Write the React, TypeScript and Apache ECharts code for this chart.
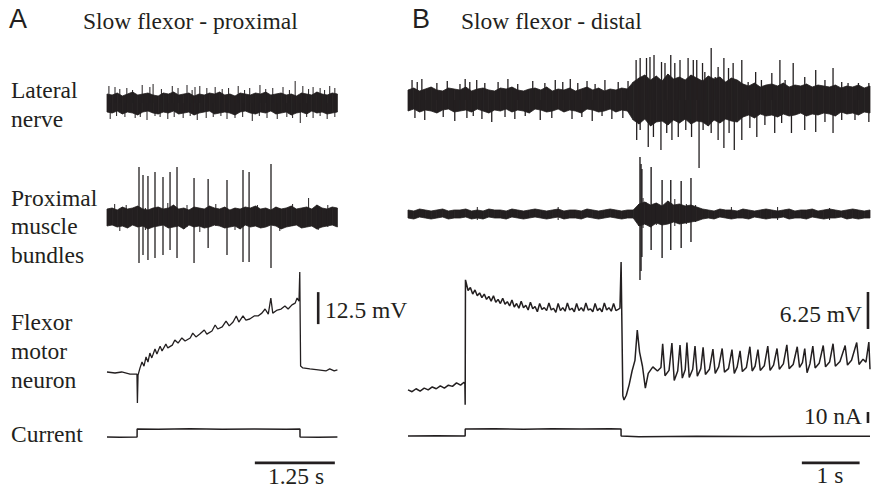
import React, { useEffect, useRef } from "react";
import * as echarts from "echarts";

const INK = "#231f20";
const SERIF = '"Liberation Serif", "Times New Roman", serif';
const SANS = '"Liberation Sans", Arial, sans-serif';

// ---------------- Panel A : Slow flexor - proximal (0 - 3.6 s) ----------------
const A_DURATION = 3.6;

// Lateral nerve (arbitrary units), envelope of the noise band
const latAUpper = [9, 8, 10, 7, 9, 11, 8, 9, 10, 8, 7, 10, 9, 11, 8, 9, 10, 7, 9, 8, 10, 9, 11, 8, 9, 7, 10, 9, 8, 10, 9, 11, 8, 9, 10, 8, 9, 7, 10, 9, 8, 11, 9, 8, 10, 9];
const latALower = [-9, -10, -8, -11, -9, -10, -12, -9, -8, -10, -11, -9, -10, -8, -11, -10, -9, -12, -10, -9, -8, -11, -10, -9, -10, -12, -9, -8, -10, -11, -9, -10, -8, -11, -10, -9, -12, -10, -9, -11, -8, -10, -9, -11, -10, -9];
const latATops: [number, number][] = [[0.03, 17], [0.125, 16], [0.2, 14], [0.31, 15], [0.4, 13], [0.55, 18], [0.67, 16], [0.72, 19], [0.85, 14], [1.02, 17], [1.11, 15], [1.25, 18], [1.33, 13], [1.375, 16], [1.45, 17], [1.56, 15], [1.69, 16], [1.8, 14], [1.9, 15], [2.05, 17], [2.15, 13], [2.23, 15], [2.39, 18], [2.48, 14], [2.59, 15], [2.75, 16], [2.85, 13], [2.94, 22], [3.06, 17], [3.15, 14], [3.22, 16], [3.33, 15], [3.4, 13], [3.48, 17], [3.56, 15]];
const latABottoms: [number, number][] = [[0.05, -16], [0.15, -13], [0.28, -14], [0.44, -15], [0.52, -14], [0.625, -17], [0.75, -13], [0.83, -14], [0.95, -16], [1.05, -14], [1.19, -15], [1.3, -13], [1.41, -17], [1.55, -15], [1.66, -14], [1.78, -13], [1.875, -16], [2.0, -15], [2.12, -14], [2.27, -18], [2.38, -13], [2.5, -15], [2.66, -16], [2.81, -14], [2.9, -15], [3.02, -20], [3.12, -14], [3.22, -15], [3.33, -13], [3.44, -16], [3.56, -14]];

// Proximal muscle bundles
const proxAUpper = [8, 9, 7, 10, 8, 9, 11, 8, 7, 9, 10, 8, 9, 12, 8, 9, 7, 10, 9, 8, 11, 9, 8, 10, 7, 9, 8, 10, 9, 11, 8, 9, 7, 10, 8, 9, 11, 8, 9, 10, 8, 12, 9, 8, 10, 9];
const proxALower = [-9, -8, -10, -9, -11, -8, -10, -9, -12, -10, -9, -8, -11, -10, -9, -12, -8, -10, -9, -11, -10, -8, -9, -11, -10, -9, -12, -8, -10, -9, -11, -10, -8, -9, -12, -10, -9, -8, -11, -10, -9, -12, -10, -9, -8, -10];
// [time, top, bottom]
const proxASpikes: [number, number, number][] = [[0.5, 50, -46], [0.5625, 42, -38], [0.64, 41, -43], [0.75, 45, -41], [0.875, 40, -38], [0.985, 45, -33], [1.094, 50, -41], [1.36, 39, -46], [1.58, 38, -31], [1.875, 37, -38], [2.125, 47, -45], [2.22, 45, -45], [2.5625, 53, -51]];
const proxANoise: [number, number, number][] = [[0.12, 13, -9], [0.2, 8, -14], [0.3, 12, -8], [0.6, 9, -13], [0.95, 14, -9], [1.25, 12, -10], [1.45, 9, -15], [1.7, 13, -9], [2.0, 8, -13], [2.35, 12, -10], [2.7, 9, -14], [2.9, 13, -9], [3.15, 19, -8], [3.3, 9, -13], [3.45, 12, -10]];

// Flexor motor neuron (mV, relative to rest)
const neuronA: [number, number][] = [[0, 0.4], [0.125, 0], [0.23, 0.4], [0.36, -0.4], [0.44, -0.4], [0.468, -0.4], [0.475, -11.7], [0.485, -0.8], [0.516, 2.0], [0.547, 4.3], [0.578, 2.7], [0.61, 6.3], [0.64, 4.3], [0.67, 7.8], [0.7, 5.9], [0.75, 9.4], [0.78, 7.4], [0.83, 10.5], [0.86, 8.6], [0.92, 11.3], [0.95, 9.8], [1.02, 10.9], [1.06, 12.9], [1.11, 11.7], [1.17, 13.7], [1.22, 12.5], [1.3, 13.7], [1.34, 15.6], [1.39, 14.1], [1.45, 15.2], [1.52, 16.8], [1.56, 15.2], [1.64, 16.4], [1.69, 18.75], [1.73, 17.2], [1.8, 18.0], [1.86, 20.3], [1.91, 18.4], [1.97, 19.9], [2.02, 22.3], [2.06, 19.9], [2.125, 22.3], [2.17, 20.7], [2.23, 21.1], [2.3, 22.3], [2.36, 22.3], [2.42, 23.4], [2.47, 25.0], [2.52, 23.0], [2.56, 29.3], [2.59, 23.4], [2.66, 24.6], [2.72, 25.0], [2.78, 26.2], [2.83, 25.0], [2.89, 26.6], [2.94, 27.3], [2.97, 29.3], [3.0, 28.1], [3.012, 39.5], [3.025, 2.7], [3.06, 2.0], [3.17, 1.6], [3.3, 1.2], [3.42, 0.8], [3.48, 1.6], [3.55, 0.8], [3.6, 1.2]];

// Current (nA)
const currentA: [number, number][] = [[0, 0], [0.2, -0.3], [0.47, 0], [0.471, 7.3], [0.8, 7.0], [1.3, 7.4], [1.8, 7.1], [2.3, 7.3], [2.8, 7.0], [3.015, 7.2], [3.016, 0], [3.3, -0.2], [3.6, 0]];

// ---------------- Panel B : Slow flexor - distal (0 - 8 s) ----------------
const B_DURATION = 8.0;

const latBUpper = [10, 12, 9, 11, 13, 10, 9, 12, 11, 10, 13, 9, 11, 12, 10, 9, 12, 11, 13, 10, 9, 11, 12, 10, 13, 9, 11, 10, 12, 9, 11, 13, 10, 12, 9, 11, 10, 12, 11,
  18, 22, 25, 20, 24, 19, 26, 21, 23, 20, 25, 22, 19, 24, 21, 23, 18, 22, 20,
  16, 14, 17, 13, 15, 16, 14, 17, 13, 15, 14, 16, 13, 15, 14, 13, 15, 12, 14, 13, 15, 12, 14];
const latBLower = [-11, -9, -12, -10, -11, -13, -10, -9, -12, -11, -10, -12, -9, -11, -13, -10, -11, -9, -12, -10, -11, -13, -9, -10, -12, -11, -9, -12, -10, -11, -13, -9, -10, -12, -11, -9, -12, -10, -11,
  -20, -24, -19, -26, -22, -21, -25, -20, -23, -19, -24, -21, -22, -26, -20, -23, -19, -21, -22,
  -17, -15, -18, -14, -16, -15, -17, -14, -16, -15, -13, -16, -14, -15, -13, -14, -16, -12, -14, -13, -15, -12, -13];
const latBTops: [number, number][] = [[0.07, 20], [0.16, 18], [0.24, 21], [0.5, 17], [0.68, 19], [0.9, 16], [0.99, 21], [1.07, 18], [1.19, 20], [1.33, 17], [1.56, 18], [1.73, 21], [1.9, 16], [2.16, 19], [2.37, 17], [2.55, 20], [2.68, 18], [2.81, 21], [2.94, 17], [3.1, 19], [3.24, 16], [3.41, 20], [3.64, 18], [3.81, 19],
  [3.95, 40], [4.02, 42], [4.13, 42], [4.19, 43], [4.26, 45], [4.39, 38], [4.45, 37], [4.55, 45], [4.62, 37], [4.71, 40], [4.85, 42], [4.94, 40], [5.0, 40], [5.1, 37], [5.14, 28], [5.25, 52], [5.32, 23], [5.37, 33], [5.47, 42], [5.55, 32], [5.63, 37], [5.78, 40], [5.89, 18], [6.02, 28], [6.12, 20], [6.3, 27], [6.44, 40], [6.53, 20], [6.67, 37], [6.87, 23], [7.06, 30], [7.22, 20], [7.36, 32], [7.51, 18], [7.62, 17], [7.8, 17], [7.98, 17]];
const latBBottoms: [number, number][] = [[0.12, -18], [0.29, -20], [0.61, -17], [0.81, -21], [1.02, -18], [1.13, -16], [1.28, -19], [1.45, -22], [1.68, -17], [1.85, -19], [2.03, -16], [2.29, -20], [2.49, -18], [2.84, -19], [3.01, -17], [3.19, -21], [3.36, -16], [3.53, -19], [3.72, -18],
  [3.96, -40], [4.02, -30], [4.16, -47], [4.25, -37], [4.38, -50], [4.48, -33], [4.57, -40], [4.68, -37], [4.81, -30], [4.91, -37], [5.04, -68], [5.11, -30], [5.25, -33], [5.37, -40], [5.47, -48], [5.56, -33], [5.65, -50], [5.78, -40], [5.92, -28], [6.04, -37], [6.18, -25], [6.35, -33], [6.47, -23], [6.64, -33], [6.87, -30], [7.06, -32], [7.22, -22], [7.36, -33], [7.51, -20], [7.74, -20], [7.98, -22]];

const proxBUpper = [4, 3, 5, 4, 3, 4, 5, 3, 4, 4, 5, 3, 4, 3, 5, 4, 4, 3, 5, 4, 3, 4, 5, 4, 3, 4, 5, 3, 4, 4, 3, 5, 4, 3, 4, 5, 4, 3, 4, 4,
  10, 12, 9, 11, 8, 13, 9, 10, 8, 9, 7,
  5, 4, 3, 5, 4, 4, 3, 5, 4, 3, 4, 5, 4, 3, 4, 5, 3, 4, 4, 5, 3, 4, 5, 4, 3, 4, 5, 4, 3, 4];
const proxBLower = [-4, -5, -3, -4, -5, -4, -3, -5, -4, -4, -3, -5, -4, -5, -3, -4, -4, -5, -3, -4, -5, -4, -3, -4, -5, -4, -3, -5, -4, -4, -5, -3, -4, -5, -4, -3, -4, -5, -4, -4,
  -12, -10, -13, -9, -11, -10, -8, -10, -9, -8, -7,
  -5, -4, -5, -3, -4, -5, -4, -4, -5, -3, -4, -5, -4, -4, -3, -5, -4, -4, -5, -3, -4, -5, -4, -4, -3, -5, -4, -5, -4, -4];
const proxBSpikes: [number, number, number][] = [[4.017, 57, -66], [4.035, 50, -57], [4.05, 45, -43], [4.21, 47, -36], [4.4, 34, -44], [4.55, 34, -36], [4.73, 33, -34], [4.9, 36, -28]];
const proxBNoise: [number, number, number][] = [[4.07, 16, -14], [4.12, 12, -11], [4.3, 11, -11], [4.62, 15, -12], [4.82, 10, -10], [4.98, 9, -8], [1.2, 7, -6], [2.6, 7, -6], [5.6, 7, -5], [6.4, 7, -6], [7.3, 6, -6]];

const neuronB: [number, number][] = [[0, 0], [0.07, -0.3], [0.14, 0.2], [0.21, -0.2], [0.28, 0.3], [0.35, 0], [0.42, 0.5], [0.49, 0.2], [0.56, 0.7], [0.63, 0.3], [0.7, 0.8], [0.77, 0.6], [0.84, 1.2], [0.91, 0.8], [0.97, 1.3], [0.985, 1.0], [0.99, -2.5], [0.995, 18.6],
  [1.0, 18.4], [1.04, 16.8], [1.08, 17.3], [1.12, 16.2], [1.16, 16.9], [1.2, 15.9], [1.24, 16.4], [1.28, 15.6], [1.32, 16.2], [1.36, 15.3], [1.4, 15.8], [1.44, 15.0], [1.48, 15.9], [1.52, 14.8], [1.56, 15.3], [1.6, 14.6], [1.64, 15.5], [1.68, 14.5], [1.72, 14.9], [1.76, 14.2], [1.8, 15.2], [1.84, 14.0], [1.88, 14.6], [1.92, 13.8], [1.96, 15.0], [2.0, 13.9], [2.04, 14.3], [2.08, 13.5], [2.12, 14.8], [2.16, 13.7], [2.2, 14.1], [2.24, 13.2], [2.28, 14.6], [2.32, 13.6], [2.36, 13.9], [2.4, 13.4], [2.44, 14.7], [2.48, 13.5], [2.52, 13.8], [2.56, 13.1], [2.6, 14.6], [2.64, 13.4], [2.68, 13.9], [2.72, 13.3], [2.76, 14.7], [2.8, 13.5], [2.84, 13.8], [2.88, 13.2], [2.92, 14.6], [2.96, 13.4], [3.0, 13.9], [3.04, 13.3], [3.08, 14.7], [3.12, 13.5], [3.16, 13.7], [3.2, 13.2], [3.24, 14.6], [3.28, 13.4], [3.32, 13.8], [3.36, 13.2], [3.4, 14.7], [3.44, 13.5], [3.48, 13.9], [3.52, 13.3], [3.56, 14.6], [3.6, 13.4], [3.64, 13.6], [3.67, 13.8],
  [3.69, 21.6], [3.72, -1.0], [3.74, -1.7], [3.78, -0.9], [3.83, 0.9], [3.88, 3.2], [3.93, 5.0], [3.97, 10.1], [4.01, 6.4], [4.06, 4.0], [4.11, 0.3], [4.16, 2.8], [4.24, 3.9], [4.32, 3.2], [4.38, 3.8], [4.41, 7.8], [4.45, 2.4], [4.52, 3.3], [4.57, 7.9], [4.61, 1.6], [4.67, 3.2], [4.71, 7.6], [4.75, 2.0], [4.8, 3.4], [4.83, 8.0], [4.87, 2.1], [4.93, 3.5], [4.97, 7.4], [5.01, 2.3], [5.07, 3.6], [5.11, 7.2], [5.15, 2.6], [5.22, 3.5], [5.28, 6.9], [5.32, 2.8], [5.38, 3.9], [5.44, 7.0], [5.48, 3.0], [5.55, 3.6], [5.61, 6.8], [5.65, 2.8], [5.7, 3.9], [5.75, 6.6], [5.79, 3.1], [5.86, 3.8], [5.92, 7.3], [5.96, 3.2], [6.01, 4.0], [6.06, 6.8], [6.1, 3.3], [6.17, 4.1], [6.23, 7.4], [6.27, 3.3], [6.33, 4.2], [6.39, 7.0], [6.43, 3.5], [6.5, 4.4], [6.56, 7.6], [6.6, 3.6], [6.67, 4.3], [6.74, 7.3], [6.78, 3.8], [6.83, 4.6], [6.87, 7.0], [6.91, 2.9], [6.96, 4.4], [7.01, 7.4], [7.05, 3.7], [7.12, 4.5], [7.19, 7.5], [7.23, 3.9], [7.3, 4.7], [7.36, 7.8], [7.4, 4.0], [7.48, 4.8], [7.57, 7.5], [7.61, 4.2], [7.68, 5.0], [7.77, 8.0], [7.81, 4.3], [7.88, 5.2], [7.93, 4.7], [7.98, 8.1], [8.0, 3.5]];

const currentB: [number, number][] = [[0, 0], [0.5, 0.2], [0.99, 0], [0.991, 6.4], [1.5, 6.6], [2.0, 6.2], [2.5, 6.5], [3.0, 6.3], [3.5, 6.7], [3.689, 6.4], [3.69, 0], [4.0, -0.6], [5.0, -0.3], [6.0, -0.4], [7.0, -0.2], [8.0, -0.3]];

// ---------------- Scale bars ----------------
const barA_mV = { t: 3.3, from: 19.1, size: 12.5 };
const barB_mV = { t: 7.965, from: 10.3, size: 6.25 };
const barB_nA = { t: 7.965, from: 11.8, size: 10 };
const barA_s = { from: 2.31, level: -23.6, size: 1.25 };
const barB_s = { from: 6.82, level: -24.5, size: 1 };

// ---------------- Labels ----------------
const panelTitles = [
  { letter: "A", title: "Slow flexor - proximal" },
  { letter: "B", title: "Slow flexor - distal" },
];
const rowLabels = [["Lateral", "nerve"], ["Proximal", "muscle", "bundles"], ["Flexor", "motor", "neuron"], ["Current"]];

// Noise band: one filled quadrilateral per pair of neighbouring envelope samples
function bandSeries(upper: number[], lower: number[], duration: number, idx: number) {
  const n = Math.min(upper.length, lower.length);
  const dt = duration / (n - 1);
  const items: number[][] = [];
  for (let i = 0; i < n - 1; i++) {
    items.push([i * dt, upper[i], lower[i], (i + 1) * dt, upper[i + 1], lower[i + 1]]);
  }
  return {
    type: "custom",
    xAxisIndex: idx,
    yAxisIndex: idx,
    silent: true,
    encode: { x: [0, 3], y: [1, 2, 4, 5] },
    data: items,
    renderItem: (_p: any, api: any) => {
      const a = api.coord([api.value(0), api.value(1)]);
      const b = api.coord([api.value(3), api.value(4)]);
      const c = api.coord([api.value(3), api.value(5)]);
      const d = api.coord([api.value(0), api.value(2)]);
      return {
        type: "polygon",
        shape: { points: [a, b, c, d] },
        style: { fill: INK, stroke: INK, lineWidth: 0.8 },
      };
    },
  };
}

function spikeSeries(items: [number, number, number][], idx: number, width = 1.1) {
  return {
    type: "custom",
    xAxisIndex: idx,
    yAxisIndex: idx,
    silent: true,
    encode: { x: 0, y: [1, 2] },
    data: items,
    renderItem: (_p: any, api: any) => {
      const a = api.coord([api.value(0), api.value(1)]);
      const b = api.coord([api.value(0), api.value(2)]);
      return {
        type: "line",
        shape: { x1: a[0], y1: a[1], x2: b[0], y2: b[1] },
        style: { stroke: INK, lineWidth: width },
      };
    },
  };
}

function traceSeries(data: [number, number][], idx: number, width = 1.2) {
  return {
    type: "line",
    xAxisIndex: idx,
    yAxisIndex: idx,
    data,
    symbol: "none",
    silent: true,
    lineStyle: { color: INK, width },
  };
}

function barSeries(data: [number, number][], idx: number, width = 2.6) {
  return {
    type: "line",
    xAxisIndex: idx,
    yAxisIndex: idx,
    data,
    symbol: "none",
    silent: true,
    clip: false,
    lineStyle: { color: INK, width, cap: "butt" },
  };
}

export default function App() {
  const ref = useRef<HTMLDivElement>(null);
  useEffect(() => {
    if (!ref.current) return;
    const chart = echarts.init(ref.current, undefined, { renderer: "svg" });

    const AL = 107, AW = A_DURATION * 64;
    const BL = 408, BW = B_DURATION * 57.75;
    const grids = [
      { left: AL, top: 73, width: AW, height: 60 },
      { left: AL, top: 157, width: AW, height: 120 },
      { left: AL, top: 265.5, width: AW, height: 158.7 },
      { left: AL, top: 409.5, width: AW, height: 60.5 },
      { left: BL, top: 40, width: BW, height: 135 },
      { left: BL, top: 154, width: BW, height: 130 },
      { left: BL, top: 253.8, width: BW, height: 159.8 },
      { left: BL, top: 408.5, width: BW, height: 60.5 },
    ];
    const yRanges = [[-30, 30], [-60, 60], [-20, 42], [-30, 25], [-75, 60], [-70, 60], [-4, 23], [-30, 25]];
    const xMax = [A_DURATION, A_DURATION, A_DURATION, A_DURATION, B_DURATION, B_DURATION, B_DURATION, B_DURATION];

    const fromZero = (arr: [number, number][]): [number, number, number][] => arr.map(([t, v]) => [t, 0, v]);

    const series: any[] = [
      bandSeries(latAUpper, latALower, A_DURATION, 0),
      spikeSeries([...fromZero(latATops), ...fromZero(latABottoms)], 0, 1),
      bandSeries(proxAUpper, proxALower, A_DURATION, 1),
      spikeSeries(proxANoise, 1, 1),
      spikeSeries(proxASpikes, 1, 1.3),
      traceSeries(neuronA, 2, 1.3),
      traceSeries(currentA, 3, 1.5),
      bandSeries(latBUpper, latBLower, B_DURATION, 4),
      spikeSeries([...fromZero(latBTops), ...fromZero(latBBottoms)], 4, 1.3),
      bandSeries(proxBUpper, proxBLower, B_DURATION, 5),
      spikeSeries(proxBNoise, 5, 1),
      spikeSeries(proxBSpikes, 5, 1.4),
      traceSeries(neuronB, 6, 1.5),
      traceSeries(currentB, 7, 1.5),
      barSeries([[barA_mV.t, barA_mV.from], [barA_mV.t, barA_mV.from + barA_mV.size]], 2),
      barSeries([[barB_mV.t, barB_mV.from], [barB_mV.t, barB_mV.from + barB_mV.size]], 6),
      barSeries([[barB_nA.t, barB_nA.from], [barB_nA.t, barB_nA.from + barB_nA.size]], 7),
      barSeries([[barA_s.from, barA_s.level], [barA_s.from + barA_s.size, barA_s.level]], 3, 2.8),
      barSeries([[barB_s.from, barB_s.level], [barB_s.from + barB_s.size, barB_s.level]], 7, 2.8),
    ];

    const FS = 23.5;
    const txt = (text: string, x: number, y: number, opts: any = {}) => ({
      type: "text",
      x,
      y,
      silent: true,
      style: {
        text,
        font: `${opts.size || FS}px ${opts.family || SERIF}`,
        fill: INK,
        align: opts.align || "left",
        verticalAlign: "middle",
      },
    });

    const rowY = [[90, 119], [198, 226, 255], [322, 351, 380], [434]];
    const graphics: any[] = [
      txt(panelTitles[0].letter, 9, 19, { size: 27, family: SANS }),
      txt(panelTitles[0].title, 83, 21),
      txt(panelTitles[1].letter, 412, 19, { size: 27, family: SANS }),
      txt(panelTitles[1].title, 461, 21),
      txt(`${barA_mV.size} mV`, 325, 310),
      txt(`${barB_mV.size} mV`, 862, 314, { align: "right" }),
      txt(`${barB_nA.size} nA`, 862, 416, { align: "right" }),
      txt(`${barA_s.size} s`, 296, 476, { align: "center" }),
      txt(`${barB_s.size} s`, 830, 475, { align: "center" }),
    ];
    rowLabels.forEach((lines, r) => lines.forEach((l, k) => graphics.push(txt(l, 11, rowY[r][k]))));

    chart.setOption({
      animation: false,
      backgroundColor: "#ffffff",
      grid: grids,
      xAxis: grids.map((_, i) => ({ type: "value", gridIndex: i, min: 0, max: xMax[i], show: false, splitLine: { show: false } })),
      yAxis: grids.map((_, i) => ({ type: "value", gridIndex: i, min: yRanges[i][0], max: yRanges[i][1], show: false, splitLine: { show: false } })),
      series,
      graphic: graphics,
    });
    return () => chart.dispose();
  }, []);

  return <div ref={ref} style={{ position: "fixed", left: 0, top: 0, width: 882, height: 490, background: "#fff" }} />;
}
